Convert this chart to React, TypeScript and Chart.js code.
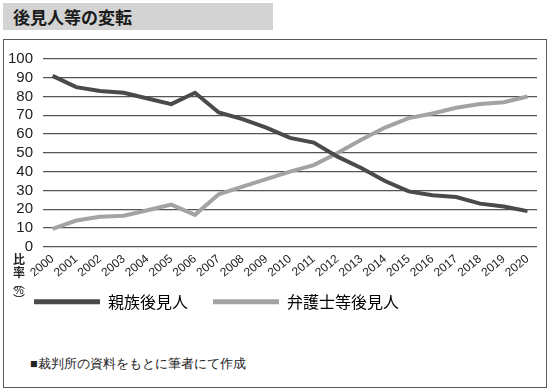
import React, { useEffect, useRef } from "react";
import { Chart, registerables } from "chart.js";

Chart.register(...registerables);

const years = ["2000","2001","2002","2003","2004","2005","2006","2007","2008","2009","2010","2011","2012","2013","2014","2015","2016","2017","2018","2019","2020"];
const kinship = [91, 85, 83, 82, 79, 76, 82, 71.5, 68, 63.5, 58, 55.5, 48, 42, 35, 29.5, 27.5, 26.5, 23, 21.5, 19];
const professional = [9.5, 14, 16, 16.5, 19.5, 22.5, 17, 28, 32, 36, 40, 43.5, 50, 57, 63.5, 68.5, 71, 74, 76, 77, 80];
const seriesNames = ["親族後見人", "弁護士等後見人"];
const seriesColors = ["#4a4a4a", "#a3a3a3"];
const yTicks = [0, 10, 20, 30, 40, 50, 60, 70, 80, 90, 100];

const CJK = '"Noto Sans CJK JP", "Noto Sans", sans-serif';

const verticalTitle = {
  id: "verticalTitle",
  beforeDraw(chart: any) {
    const lg = chart.legend;
    if (lg) {
      const shift = chart.chartArea.bottom + 22 - lg.top;
      lg.top += shift;
      lg.bottom += shift;
    }
  },
  afterDraw(chart: any) {
    const ctx = chart.ctx;
    ctx.save();
    ctx.fillStyle = "#222";
    ctx.textAlign = "center";
    ctx.textBaseline = "middle";
    const x = 15;
    ctx.font = `bold 12px ${CJK}`;
    ctx.fillText("比", x, 219);
    ctx.fillText("率", x, 232);
    ctx.font = `12px ${CJK}`;
    ctx.fillText("︵", x, 243);
    ctx.font = `11px "Liberation Sans", sans-serif`;
    ctx.fillText("%", x, 251);
    ctx.font = `12px ${CJK}`;
    ctx.fillText("︶", x, 260);
    ctx.restore();
  },
};

export default function App() {
  const ref = useRef<HTMLCanvasElement>(null);
  useEffect(() => {
    if (!ref.current) return;
    const data = {
      datasets: [kinship, professional].map((vals, i) => ({
        label: seriesNames[i],
        data: years.map((y, j) => ({ x: Number(y), y: vals[j] })),
        borderColor: seriesColors[i],
        backgroundColor: seriesColors[i],
        borderWidth: 4,
        pointRadius: 0,
        tension: 0,
        borderJoinStyle: "miter" as const,
      })),
    };
    const chart = new Chart(ref.current, {
      type: "line",
      data,
      plugins: [verticalTitle],
      options: {
        animation: false,
        responsive: false,
        maintainAspectRatio: false,
        layout: { padding: { left: 5, right: 9, top: 18, bottom: 12 } },
        plugins: {
          tooltip: { enabled: false },
          legend: {
            display: true,
            position: "bottom",
            align: "start",
            labels: {
              boxWidth: 66,
              boxHeight: 5,
              padding: 25,
              color: "#222",
              font: { family: CJK, size: 16 },
              generateLabels: (c: any) =>
                c.data.datasets.map((d: any, i: number) => ({
                  text: d.label,
                  fillStyle: seriesColors[i],
                  strokeStyle: seriesColors[i],
                  lineWidth: 0,
                  hidden: false,
                  datasetIndex: i,
                })),
            },
          },
        },
        scales: {
          x: {
            type: "linear",
            min: 1999.6,
            max: 2020.4,
            afterBuildTicks: (scale: any) => {
              scale.ticks = years.map((y) => ({ value: Number(y) }));
            },
            grid: { display: false, drawTicks: false },
            border: { display: false },
            ticks: {
              autoSkip: false,
              minRotation: 40,
              maxRotation: 40,
              padding: 5,
              color: "#222",
              font: { family: '"Liberation Sans", Arial, sans-serif', size: 12 },
              callback: (v: any) => String(v),
            },
          },
          y: {
            min: 0,
            max: 100,
            afterBuildTicks: (scale: any) => {
              scale.ticks = yTicks.map((v) => ({ value: v }));
            },
            afterFit: (scale: any) => {
              scale.width = 34;
            },
            grid: { color: "#555", lineWidth: 1.3, drawTicks: false },
            border: { display: false },
            ticks: {
              autoSkip: false,
              padding: 10,
              color: "#222",
              font: { family: '"Liberation Sans", Arial, sans-serif', size: 15 },
            },
          },
        },
      },
    });
    return () => chart.destroy();
  }, []);

  return (
    <div style={{ position: "absolute", left: 0, top: 0, width: 550, height: 391, background: "#fff", overflow: "hidden" }}>
      <div
        style={{
          position: "absolute",
          left: 3,
          top: 3,
          width: 270,
          height: 27,
          background: "#d3d3d3",
          fontFamily: CJK,
          fontWeight: 700,
          fontSize: 17,
          lineHeight: "27px",
          paddingLeft: 10,
          boxSizing: "border-box",
          color: "#1a1a1a",
        }}
      >
        後見人等の変転
      </div>
      <div
        style={{
          position: "absolute",
          left: 3,
          top: 39,
          width: 544,
          height: 349,
          border: "1.5px solid #5a5a5a",
          boxSizing: "border-box",
        }}
      />
      <canvas ref={ref} width={542} height={308} style={{ position: "absolute", left: 4, top: 40, width: 542, height: 308 }} />
      <div
        style={{
          position: "absolute",
          left: 30,
          top: 356,
          fontFamily: "serif",
          fontSize: 12.5,
          color: "#222",
          whiteSpace: "nowrap",
        }}
      >
        ■裁判所の資料をもとに筆者にて作成
      </div>
    </div>
  );
}
